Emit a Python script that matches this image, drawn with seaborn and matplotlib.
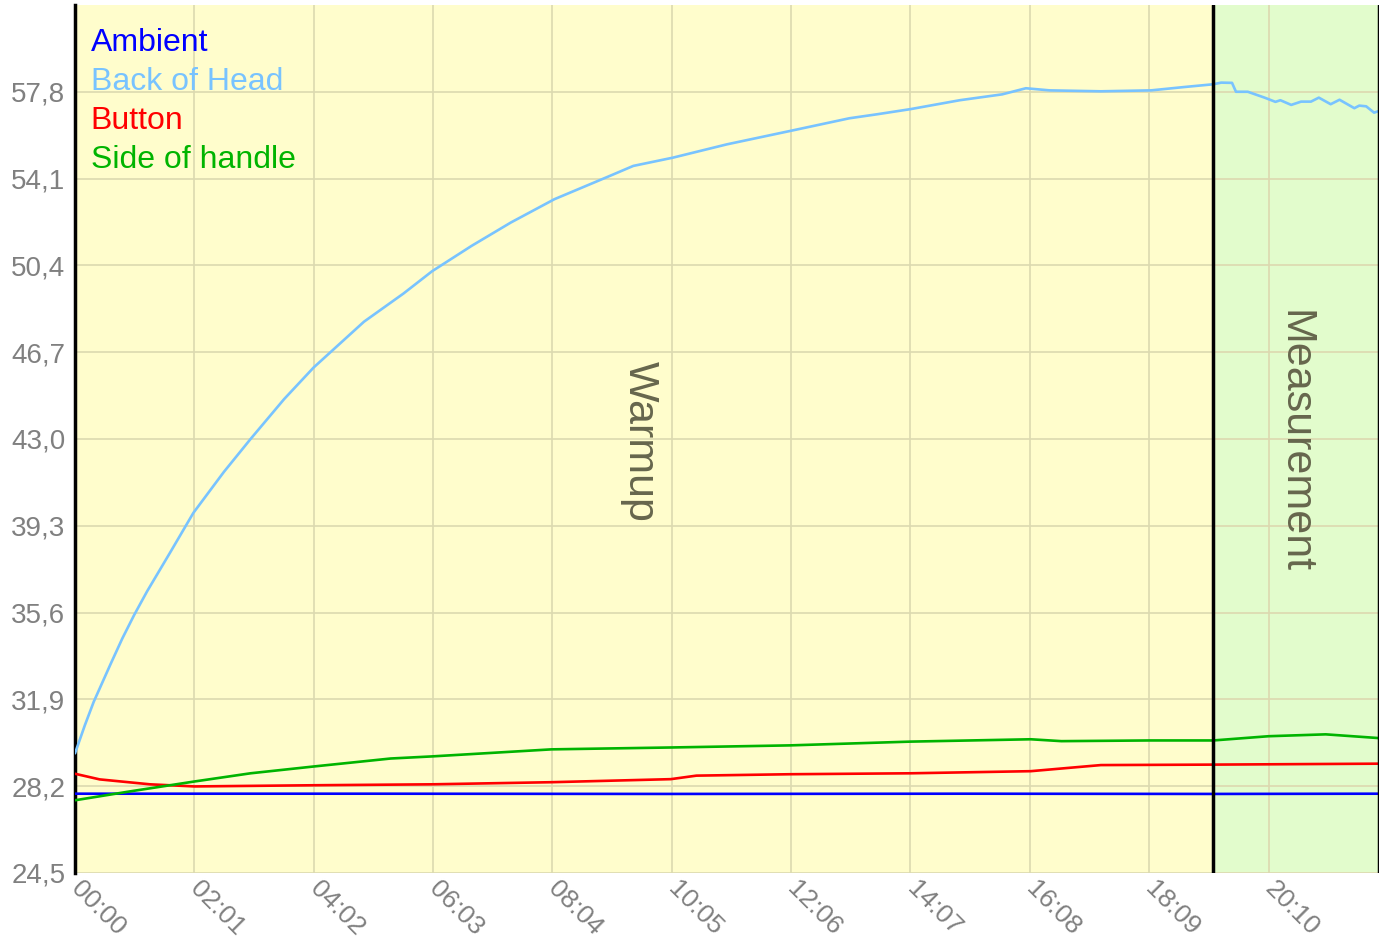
import pandas as pd
import matplotlib.pyplot as plt
import seaborn as sns

# time in seconds, temperature in °C
head_t = [0, 10, 19, 36, 48, 60, 73, 97, 120, 151, 178, 212, 242, 293, 333, 362, 402, 442, 486,
          542, 566, 606, 661, 725, 785, 813, 847, 897, 940, 964, 988, 1040, 1091, 1124,
          1154, 1162, 1173, 1177, 1189, 1206, 1217, 1222, 1233, 1243, 1253, 1261, 1273,
          1282, 1297, 1302, 1309, 1317, 1322]
head_v = [29.6, 30.8, 31.8, 33.4, 34.5, 35.5, 36.5, 38.2, 39.85, 41.6, 43.0, 44.7, 46.05, 48.0, 49.2,
          50.15, 51.23, 52.23, 53.22, 54.21, 54.64, 54.99, 55.56, 56.13, 56.67, 56.84, 57.06,
          57.44, 57.69, 57.95, 57.86, 57.82, 57.86, 58.0, 58.12, 58.19, 58.18, 57.8, 57.8,
          57.55, 57.37, 57.44, 57.24, 57.38, 57.38, 57.55, 57.27, 57.46, 57.1, 57.21, 57.18,
          56.91, 56.98]

ambient_t = [0, 300, 600, 900, 1154, 1322]
ambient_v = [27.88, 27.88, 27.87, 27.88, 27.87, 27.88]

button_t = [0, 25, 76, 121, 242, 362, 483, 604, 630, 725, 847, 969, 1040, 1154, 1322]
button_v = [28.73, 28.49, 28.28, 28.19, 28.24, 28.28, 28.37, 28.5, 28.65, 28.71, 28.75, 28.84, 29.1, 29.12, 29.16]

handle_t = [0, 56, 121, 178, 242, 320, 362, 483, 604, 725, 847, 969, 1000, 1090, 1154, 1210, 1268, 1322]
handle_v = [27.6, 27.98, 28.4, 28.75, 29.04, 29.38, 29.47, 29.77, 29.85, 29.94, 30.1, 30.2, 30.12, 30.15, 30.15, 30.33, 30.41, 30.25]

series_names = ["Ambient", "Back of Head", "Button", "Side of handle"]
series_colors = ["#0000ff", "#78c3ff", "#ff0000", "#00b400"]

phase_names = ["Warmup", "Measurement"]
phase_bounds = [0, 1154, 1322]
phase_colors = ["#fffdcc", "#e2fccc"]

xtick_pos = [0, 121, 242, 363, 484, 605, 726, 847, 968, 1089, 1210]
xtick_labels = ["00:00", "02:01", "04:02", "06:03", "08:04", "10:05",
                "12:06", "14:07", "16:08", "18:09", "20:10"]
ytick_pos = [24.5, 28.2, 31.9, 35.6, 39.3, 43.0, 46.7, 50.4, 54.1, 57.8]
ytick_labels = ["24,5", "28,2", "31,9", "35,6", "39,3", "43,0", "46,7", "50,4", "54,1", "57,8"]

df = pd.concat([
    pd.DataFrame({"t": ambient_t, "temp": ambient_v, "sensor": "Ambient"}),
    pd.DataFrame({"t": head_t, "temp": head_v, "sensor": "Back of Head"}),
    pd.DataFrame({"t": button_t, "temp": button_v, "sensor": "Button"}),
    pd.DataFrame({"t": handle_t, "temp": handle_v, "sensor": "Side of handle"}),
])

sns.set_style("white")
plt.rcParams['font.family'] = ['Liberation Sans', 'DejaVu Sans']

fig = plt.figure(figsize=(13.89, 9.38), dpi=100)
ax = fig.add_axes([0.054, 0.0693, 0.9388, 0.9254])

for i, name in enumerate(phase_names):
    ax.axvspan(phase_bounds[i], phase_bounds[i + 1], color=phase_colors[i], zorder=0, lw=0)

sns.lineplot(data=df, x="t", y="temp", hue="sensor", hue_order=series_names,
             palette=dict(zip(series_names, series_colors)), linewidth=1.9,
             legend=False, ax=ax, zorder=3)

ax.set_xlim(0, 1322)
ax.set_ylim(24.5, 61.5)
ax.set_xticks(xtick_pos)
ax.set_xticklabels(xtick_labels, rotation=-45, ha="left", va="center",
                   rotation_mode="anchor", fontsize=19, color="#808080")
ax.set_yticks(ytick_pos)
ax.set_yticklabels(ytick_labels, fontsize=20, color="#808080")
ax.tick_params(axis="y", length=0, pad=7)
ax.tick_params(axis="x", length=0, pad=9)
ax.set_xlabel("")
ax.set_ylabel("")
ax.grid(True, color="#dcd9b0", linewidth=1.2, zorder=1)
ax.set_axisbelow(True)

for s in ["top", "right", "bottom"]:
    ax.spines[s].set_visible(False)
ax.spines["left"].set_color("black")
ax.spines["left"].set_linewidth(2.5)

for b in phase_bounds[1:]:
    ax.axvline(b, color="black", linewidth=2.5, zorder=4)

# phase labels
ax.text(573, 42.9, "Warmup", rotation=-90, ha="center", va="center",
        fontsize=31, color="#66664d", zorder=5)
ax.text(1236, 42.9, "Measurement", rotation=-90, ha="center", va="center",
        fontsize=31, color="#66664d", zorder=5)

# legend as coloured text
for i, (name, col) in enumerate(zip(series_names, series_colors)):
    ax.text(0.012, 0.956 - i * 0.045, name, transform=ax.transAxes,
            color=col, fontsize=23, ha="left", va="center", zorder=6)

fig.savefig("out.png", dpi=100)
